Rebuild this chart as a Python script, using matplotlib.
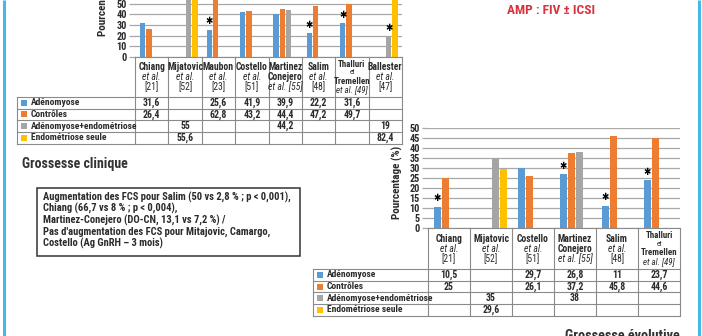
import numpy as np
import matplotlib
matplotlib.use("Agg")
import matplotlib.pyplot as plt
import matplotlib.patches as mpatches
from matplotlib import font_manager as fm

# narrow sans face if one is around, Liberation Sans otherwise
narrow = sorted({f.name for f in fm.fontManager.ttflist
                 if f.stretch == 'condensed' or 'Narrow' in f.name or 'Condensed' in f.name})
face = None
for cand in ['Liberation Sans Narrow', 'Roboto Condensed', 'DejaVu Sans Condensed',
             'DejaVu Sans'] + narrow:
    if cand in narrow:
        face = cand
        break
if face is None:
    face = 'Liberation Sans'
    SC = 0.86
else:
    SC = 1.0
    matplotlib.rcParams['font.stretch'] = 'condensed'
matplotlib.rcParams['font.family'] = [face, 'DejaVu Sans']

W, H = 702, 336

series_names = ['Adénomyose', 'Contrôles', 'Adénomyose+endométriose', 'Endométriose seule']
series_colors = ['#5b9bd5', '#ed7d31', '#a5a5a5', '#ffc000']

# Grossesse clinique
top_studies = [
    [('Chiang', 'b'), ('et al.', 'i'), ('[21]', 'n')],
    [('Mijatovic', 'b'), ('et al.', 'i'), ('[52]', 'n')],
    [('Maubon', 'b'), ('et al.', 'i'), ('[23]', 'n')],
    [('Costello', 'b'), ('et al.', 'i'), ('[51]', 'n')],
    [('Martinez', 'b'), ('Conejero', 'b'), ('et al. [55]', 'i')],
    [('Salim', 'b'), ('et al.', 'i'), ('[48]', 'n')],
    [('Thalluri', 'b'), ('et', 'n'), ('Tremellen', 'b'), ('et al. [49]', 'i')],
    [('Ballester', 'b'), ('et al.', 'i'), ('[47]', 'n')],
]
top_adeno = [31.6, np.nan, 25.6, 41.9, 39.9, 22.2, 31.6, np.nan]
top_ctrl = [26.4, np.nan, 62.8, 43.2, 44.4, 47.2, 49.7, np.nan]
top_adeno_endo = [np.nan, 55, np.nan, np.nan, 44.2, np.nan, np.nan, 19]
top_endo = [np.nan, 55.6, np.nan, np.nan, np.nan, np.nan, np.nan, 82.4]
top_stars = [(2, 0), (5, 0), (6, 0), (7, 2)]  # (study, series)

# Grossesse évolutive
bot_studies = [
    [('Chiang', 'b'), ('et al.', 'i'), ('[21]', 'n')],
    [('Mijatovic', 'b'), ('et al.', 'i'), ('[52]', 'n')],
    [('Costello', 'b'), ('et al.', 'i'), ('[51]', 'n')],
    [('Martinez', 'b'), ('Conejero', 'b'), ('et al. [55]', 'i')],
    [('Salim', 'b'), ('et al.', 'i'), ('[48]', 'n')],
    [('Thalluri', 'b'), ('et', 'n'), ('Tremellen', 'b'), ('et al. [49]', 'i')],
]
bot_adeno = [10.5, np.nan, 29.7, 26.8, 11, 23.7]
bot_ctrl = [25, np.nan, 26.1, 37.2, 45.8, 44.6]
bot_adeno_endo = [np.nan, 35, np.nan, 38, np.nan, np.nan]
bot_endo = [np.nan, 29.6, np.nan, np.nan, np.nan, np.nan]
bot_stars = [(0, 0), (3, 0), (4, 0), (5, 0)]

note_lines = [
    'Augmentation des FCS pour Salim (50 vs 2,8 % ; p < 0,001),',
    'Chiang (66,7 vs 8 % ; p < 0,004),',
    'Martinez-Conejero (DO-CN, 13,1 vs 7,2 %) /',
    "Pas d'augmentation des FCS pour Mitajovic, Camargo,",
    'Costello (Ag GnRH \u2013 3 mois)',
]

TXT = '#2b2b2b'
GRID = '#a8a8a8'
BORDER = '#8a8a8a'

fig = plt.figure(figsize=(W / 100, H / 100), dpi=100)
fig.patch.set_facecolor('white')


def px_axes(x0, y0, x1, y1):
    return fig.add_axes([x0 / W, 1 - y1 / H, (x1 - x0) / W, (y1 - y0) / H])


def fmt(v):
    return ('%g' % v).replace('.', ',')


def bar_panel(ax, series, ymax, step, stars, star_pt):
    n = len(series[0])
    x = np.arange(n)
    for k, (vals, col) in enumerate(zip(series, series_colors)):
        ax.bar(x + (k - 1.5) * 0.19 + 0.01, vals, width=0.16, color=col, zorder=3)
    for i, k in stars:
        ax.annotate('\u2731', xy=((k - 1.5) * 0.19 + 0.01 + i, series[k][i]),
                    xytext=(0, star_pt), textcoords='offset points',
                    ha='center', va='bottom', fontsize=7, color='black',
                    family=['DejaVu Sans'], zorder=4, annotation_clip=False)
    ax.set_xlim(-0.5, n - 0.5)
    ax.set_ylim(0, ymax)
    ax.set_yticks(np.arange(0, ymax + 0.1, step))
    ax.set_xticks([])
    ax.yaxis.grid(True, color=GRID, lw=0.9, zorder=0)
    for s in ax.spines.values():
        s.set_visible(False)
    ax.tick_params(axis='y', length=4, width=0.9, color=GRID, pad=2,
                   labelsize=7.4 * SC, labelcolor=TXT)
    for lab in ax.get_yticklabels():
        lab.set_fontweight('bold')
    ax.patch.set_alpha(0)


def draw_table(ov, xl, xc, cw, yh, yr, rh, studies, series):
    n = len(studies)
    xe = xc + n * cw
    ye = yr + 4 * rh
    kw = dict(color=BORDER, lw=0.8)
    ov.plot([xc, xe], [yh, yh], **kw)
    for i in range(n + 1):
        ov.plot([xc + i * cw] * 2, [yh, ye], **kw)
    ov.plot([xl, xl], [yr, ye], **kw)
    for j in range(5):
        ov.plot([xl, xe], [yr + j * rh] * 2, **kw)
    # study headers
    for i, lines in enumerate(studies):
        four = len(lines) > 3
        gap = 8.6 if four else 10
        yc = (yh + yr) / 2 - gap * (len(lines) - 1) / 2
        for m, (t, st) in enumerate(lines):
            size = 5.2 if t == 'et' else (6.4 if four else 6.9)
            ov.text(xc + (i + 0.5) * cw, yc + m * gap, t, ha='center', va='center',
                    fontsize=size * SC,
                    fontweight='bold' if st == 'b' else 'normal',
                    fontstyle='italic' if st == 'i' else 'normal', color=TXT)
    # rows
    for j, (name, col, vals) in enumerate(zip(series_names, series_colors, series)):
        yc = yr + (j + 0.5) * rh
        ov.add_patch(mpatches.Rectangle((xl + 4, yc - 3), 6, 6, color=col, lw=0))
        ov.text(xl + 14, yc, name, ha='left', va='center', fontsize=6.8 * SC,
                fontweight='bold', color=TXT)
        for i, v in enumerate(vals):
            if not np.isnan(v):
                ov.text(xc + (i + 0.5) * cw, yc, fmt(v), ha='center', va='center',
                        fontsize=7 * SC, fontweight='bold', color=TXT)


# upper chart : axis 0 at y=57 px, 1.07 px per %
ax1 = px_axes(135, 57 - 90 * 1.07, 402, 57)
bar_panel(ax1, [top_adeno, top_ctrl, top_adeno_endo, top_endo], 90, 10, top_stars, 2.5)
ax1.set_ylabel('Pourcentage (%)', fontsize=8 * SC, fontweight='bold', color=TXT)
ax1.yaxis.set_label_coords(-26 / 267, 0.60)

# lower chart : axis 0 at y=228 px, 50 at y=127.5 px
ax2 = px_axes(428, 127.5, 680, 228)
bar_panel(ax2, [bot_adeno, bot_ctrl, bot_adeno_endo, bot_endo], 50, 5, bot_stars, 2.5)
ax2.set_ylabel('Pourcentage (%)', fontsize=8 * SC, fontweight='bold', color=TXT)
ax2.yaxis.set_label_coords(-25 / 252, 0.45)

# overlay in pixel coordinates for tables and text
ov = fig.add_axes([0, 0, 1, 1])
ov.set_xlim(0, W)
ov.set_ylim(H, 0)
ov.axis('off')
ov.patch.set_alpha(0)

draw_table(ov, 17, 135, 267 / 8, 57, 97, 11.65,
           top_studies, [top_adeno, top_ctrl, top_adeno_endo, top_endo])
draw_table(ov, 313, 428, 42, 228, 269, 11.7,
           bot_studies, [bot_adeno, bot_ctrl, bot_adeno_endo, bot_endo])

ov.text(22, 164, 'Grossesse clinique', ha='left', va='center', fontsize=10 * SC,
        fontweight='bold', color='#333333')
ov.add_patch(mpatches.Rectangle((37, 188), 263, 68, fill=False, ec='#333333', lw=1.1))
for k, line in enumerate(note_lines):
    ov.text(43, 197 + k * 11.6, line, ha='left', va='center', fontsize=7.6 * SC,
            fontweight='bold', color=TXT)

ov.text(551, 10, 'AMP : FIV \u00b1 ICSI', ha='center', va='center', fontsize=9.6 * SC,
        fontweight='bold', color='#d8323f')
ov.text(680, 340, 'Grossesse évolutive', ha='right', va='baseline', fontsize=10.3 * SC,
        fontweight='bold', color='#333333')

# side frame lines
ov.plot([4, 4], [0, H], color='#45b8e6', lw=2.2, solid_capstyle='butt')
ov.plot([699, 699], [0, H], color='#45b8e6', lw=2.2, solid_capstyle='butt')

fig.savefig('out.png', dpi=100)
